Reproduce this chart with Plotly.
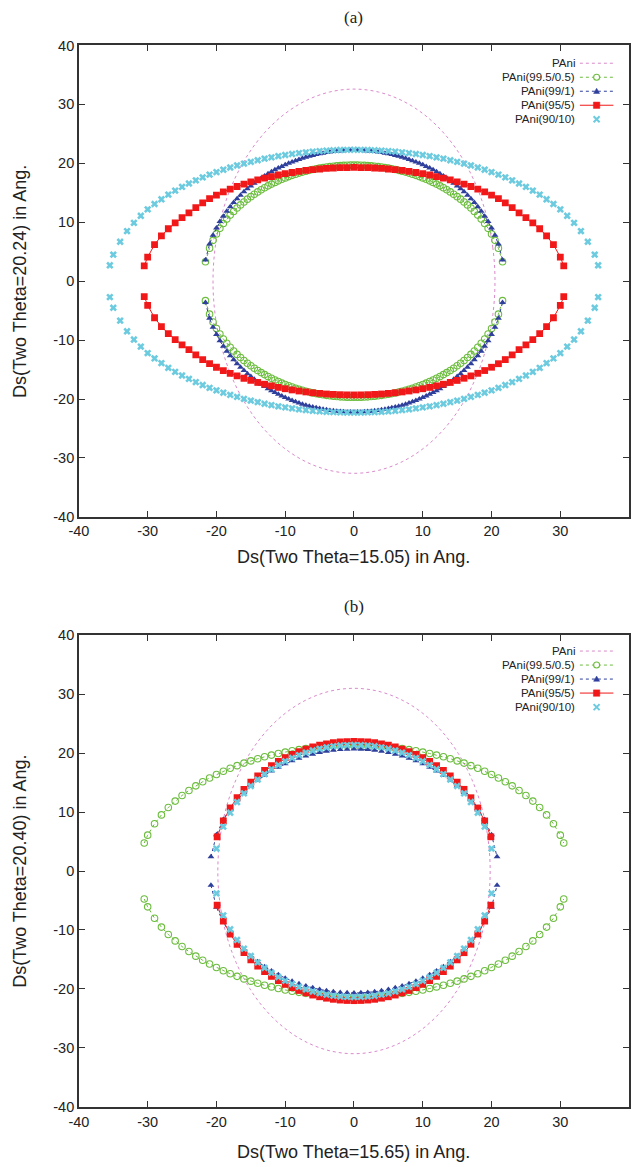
import plotly.graph_objects as go

# ---------------------------------------------------------------------------
# Data.
# Every curve in the reference is symmetric about x=0 and y=0, so each one is
# stored as its first-quadrant part (x >= 0, y >= 0) and mirrored when drawn.
# ---------------------------------------------------------------------------
LABELS = ["PAni", "PAni(99.5/0.5)", "PAni(99/1)", "PAni(95/5)", "PAni(90/10)"]
TICKS = [-40, -30, -20, -10, 0, 10, 20, 30, 40]
TICK_TEXT = ["-40", "-30", "-20", "-10", "0", "10", "20", "30", "40"]

# ---- panel (a) ----
A_PANI_X = [20.5, 20.19, 19.26, 17.75, 15.7, 13.18, 10.25, 7.01, 3.56, 0]
A_PANI_Y = [0, 5.66, 11.15, 16.3, 20.96, 24.97, 28.23, 30.63, 32.1, 32.6]

A_GREEN_X = [0, 0.5, 1, 1.5, 2, 2.5, 3, 3.5, 4, 4.5, 5, 5.5, 6, 6.5, 7, 7.5, 8, 8.5, 9, 9.5,
             10, 10.5, 11, 11.5, 12, 12.5, 13, 13.5, 14, 14.5, 15, 15.5, 16, 16.5, 17, 17.5,
             18, 18.5, 19, 19.5, 20, 20.5, 21, 21.6]
A_GREEN_Y = [19.7, 19.69, 19.68, 19.65, 19.62, 19.57, 19.51, 19.45, 19.37, 19.28, 19.18, 19.07,
             18.95, 18.81, 18.67, 18.51, 18.34, 18.16, 17.96, 17.75, 17.53, 17.29, 17.03, 16.77,
             16.48, 16.18, 15.85, 15.51, 15.15, 14.76, 14.35, 13.92, 13.45, 12.95, 12.42, 11.84,
             11.22, 10.54, 9.8, 8.97, 8.03, 6.93, 5.59, 3.3]

A_BLUE_X = [0, 0.5, 1, 1.5, 2, 2.5, 3, 3.5, 4, 4.5, 5, 5.5, 6, 6.5, 7, 7.5, 8, 8.5, 9, 9.5,
            10, 10.5, 11, 11.5, 12, 12.5, 13, 13.5, 14, 14.5, 15, 15.5, 16, 16.5, 17, 17.5,
            18, 18.5, 19, 19.5, 20, 20.5, 21, 21.6]
A_BLUE_Y = [22.2, 22.19, 22.18, 22.14, 22.11, 22.05, 21.99, 21.92, 21.83, 21.73, 21.61, 21.49,
            21.35, 21.2, 21.04, 20.86, 20.67, 20.46, 20.24, 20.0, 19.75, 19.48, 19.2, 18.9,
            18.57, 18.23, 17.87, 17.48, 17.07, 16.63, 16.17, 15.69, 15.16, 14.59, 14.0, 13.34,
            12.64, 11.88, 11.04, 10.11, 9.04, 7.81, 6.3, 3.6]

A_RED_X = [0, 1, 2, 3, 4, 5, 6, 7, 8, 9, 10, 11, 12, 13, 14, 15, 16, 17, 18, 19, 20, 21, 22,
           23, 24, 25, 26, 27, 28, 29, 30, 30.5]
A_RED_Y = [19.3, 19.29, 19.26, 19.21, 19.14, 19.04, 18.93, 18.79, 18.63, 18.45, 18.25, 18.02,
           17.76, 17.48, 17.18, 16.84, 16.47, 16.07, 15.63, 15.16, 14.6, 14.0, 13.3, 12.5, 11.6,
           10.8, 9.9, 8.9, 7.7, 6.2, 4.1, 2.6]

A_CYAN_X = [0, 1, 2, 3, 4, 5, 6, 7, 8, 9, 10, 11, 12, 13, 14, 15, 16, 17, 18, 19, 20, 21, 22,
            23, 24, 25, 26, 27, 28, 29, 30, 31, 32, 33, 34, 35, 35.5]
A_CYAN_Y = [22.3, 22.29, 22.27, 22.22, 22.16, 22.08, 21.99, 21.87, 21.74, 21.59, 21.42, 21.23,
            21.02, 20.79, 20.53, 20.26, 19.96, 19.64, 19.29, 18.92, 18.52, 18.09, 17.62, 17.12,
            16.58, 16.0, 15.38, 14.7, 13.9, 13.1, 12.2, 11.1, 9.9, 8.5, 6.7, 4.5, 2.7]

# ---- panel (b) ----
B_PANI_X = [19.8, 19.5, 18.61, 17.15, 15.17, 12.73, 9.9, 6.77, 3.44, 0]
B_PANI_Y = [0, 5.38, 10.6, 15.5, 19.93, 23.75, 26.85, 29.13, 30.53, 31.0]

B_GREEN_X = [0, 1, 2, 3, 4, 5, 6, 7, 8, 9, 10, 11, 12, 13, 14, 15, 16, 17, 18, 19, 20, 21, 22,
             23, 24, 25, 26, 27, 28, 29, 30, 30.5]
B_GREEN_Y = [21.3, 21.29, 21.26, 21.2, 21.13, 21.03, 20.9, 20.76, 20.59, 20.4, 20.18, 19.94,
             19.67, 19.38, 19.05, 18.69, 18.31, 17.88, 17.43, 16.93, 16.38, 15.79, 15.15, 14.45,
             13.67, 12.82, 11.86, 10.78, 9.52, 8.01, 6.08, 4.75]

B_BLUE_X = [0, 1, 2, 3, 4, 5, 6, 7, 8, 9, 10, 11, 12, 13, 14, 15, 16, 17, 18, 19, 20, 20.8]
B_BLUE_Y = [20.7, 20.68, 20.61, 20.49, 20.32, 20.1, 19.83, 19.51, 19.13, 18.69, 18.19, 17.62,
            16.97, 16.23, 15.4, 14.45, 13.36, 12.1, 10.59, 8.72, 6.16, 2.4]

B_RED_X = [0, 1, 2, 3, 4, 5, 6, 7, 8, 9, 10, 11, 12, 13, 14, 15, 16, 17, 18, 19, 19.9]
B_RED_Y = [22.0, 21.97, 21.9, 21.77, 21.58, 21.34, 21.05, 20.68, 20.27, 19.79, 19.23, 18.6,
           17.88, 17.07, 16.14, 15.08, 13.86, 12.43, 10.7, 8.5, 5.8]

B_CYAN_X = [0, 1, 2, 3, 4, 5, 6, 7, 8, 9, 10, 11, 12, 13, 14, 15, 16, 17, 18, 19, 20]
B_CYAN_Y = [21.4, 21.37, 21.3, 21.17, 20.98, 20.74, 20.44, 20.09, 19.67, 19.18, 18.62, 17.99,
            17.26, 16.44, 15.5, 14.42, 13.17, 11.7, 9.89, 7.53, 3.8]

# ---------------------------------------------------------------------------
# styles
# ---------------------------------------------------------------------------
W, H = 635, 1167
PINK = "#d98acb"
GREEN = "#6cbd3e"
BLUE = "#2f3f9c"
RED = "#f01818"
CYAN = "#6ccbdf"
AXC = "#333333"
SANS = "Liberation Sans, Arial, Helvetica, sans-serif"
SERIF = "Liberation Serif, Times New Roman, serif"

LEFT, RIGHT = 70, 629
X_DOM = [LEFT / W, RIGHT / W]
CX = (LEFT + RIGHT) / 2
PANELS = {
    "a": dict(top=38, bottom=516),
    "b": dict(top=636, bottom=1114),
}


def ydom(p):
    return [1 - PANELS[p]["bottom"] / H, 1 - PANELS[p]["top"] / H]


def mirrored_arcs(qx, qy):
    """Upper and lower arcs from the first-quadrant half (mirror images)."""
    ux = [-v for v in reversed(qx[1:])] + list(qx)
    uy = list(reversed(qy[1:])) + list(qy)
    lx = list(ux)
    ly = [-v for v in uy]
    return ux + [None] + lx, uy + [None] + ly


def mirrored_loop(qx, qy):
    """Closed loop (0..360 deg) from the first-quadrant points (0..90 deg)."""
    x = list(qx) + [-v for v in reversed(qx[:-1])]
    y = list(qy) + list(reversed(qy[:-1]))
    x += [-v for v in qx[1:]] + list(reversed(qx[:-1]))
    y += [-v for v in qy[1:]] + [-v for v in reversed(qy[:-1])]
    return x, y


fig = go.Figure()

series = {
    "a": [(A_PANI_X, A_PANI_Y), (A_GREEN_X, A_GREEN_Y), (A_BLUE_X, A_BLUE_Y),
          (A_RED_X, A_RED_Y), (A_CYAN_X, A_CYAN_Y)],
    "b": [(B_PANI_X, B_PANI_Y), (B_GREEN_X, B_GREEN_Y), (B_BLUE_X, B_BLUE_Y),
          (B_RED_X, B_RED_Y), (B_CYAN_X, B_CYAN_Y)],
}

for p, (xa, ya) in (("a", ("x", "y")), ("b", ("x2", "y2"))):
    s = series[p]
    px, py = mirrored_loop(*s[0])
    fig.add_trace(go.Scatter(x=px, y=py, mode="lines", name=LABELS[0], xaxis=xa, yaxis=ya,
                             line=dict(color=PINK, width=1, dash="dot", shape="spline")))
    gx, gy = mirrored_arcs(*s[1])
    fig.add_trace(go.Scatter(x=gx, y=gy, mode="lines+markers", name=LABELS[1], xaxis=xa, yaxis=ya,
                             line=dict(color=GREEN, width=1, dash="3px,3px"),
                             marker=dict(symbol="circle-open", size=6.5, color=GREEN,
                                         line=dict(width=1.1, color=GREEN))))
    bx, by = mirrored_arcs(*s[2])
    fig.add_trace(go.Scatter(x=bx, y=by, mode="lines+markers", name=LABELS[2], xaxis=xa, yaxis=ya,
                             line=dict(color=BLUE, width=1, dash="3px,3px"),
                             marker=dict(symbol="triangle-up", size=6, color=BLUE)))
    rx, ry = mirrored_arcs(*s[3])
    fig.add_trace(go.Scatter(x=rx, y=ry, mode="lines+markers", name=LABELS[3], xaxis=xa, yaxis=ya,
                             line=dict(color=RED, width=1),
                             marker=dict(symbol="square", size=6.8, color=RED)))
    cx, cy = mirrored_arcs(*s[4])
    fig.add_trace(go.Scatter(x=cx, y=cy, mode="markers", name=LABELS[4], xaxis=xa, yaxis=ya,
                             marker=dict(symbol="x", size=6.5, color=CYAN,
                                         line=dict(width=0))))


def axis(dom, anchor, standoff):
    return dict(domain=dom, anchor=anchor, range=[-40, 40], tickmode="array",
                tickvals=TICKS, ticktext=TICK_TEXT, ticks="inside", ticklen=6,
                tickwidth=1, tickcolor=AXC, showline=True, linecolor=AXC, linewidth=1.5,
                mirror="ticks", showgrid=False, zeroline=False, ticklabelstandoff=standoff,
                tickfont=dict(family=SANS, size=14.5, color="#222222"), fixedrange=True)


fig.update_layout(
    width=W, height=H, margin=dict(l=0, r=0, t=0, b=0),
    paper_bgcolor="white", plot_bgcolor="white", showlegend=False,
    xaxis=axis(X_DOM, "y", 0), yaxis=axis(ydom("a"), "x", 0),
    xaxis2=axis(X_DOM, "y2", 1), yaxis2=axis(ydom("b"), "x2", 0),
)

annotations = []
shapes = []

TITLES = {
    "a": ("(a)", "Ds(Two Theta=15.05) in Ang.", "Ds(Two Theta=20.24) in Ang.", 10, 557, 18),
    "b": ("(b)", "Ds(Two Theta=15.65) in Ang.", "Ds(Two Theta=20.40) in Ang.", 607, 1160, 16),
}
LEG_COLORS = [PINK, GREEN, BLUE, RED, CYAN]
LEG_TEXT_R, LEG_L0, LEG_L1, LEG_MK = 576, 579, 613, 596

for p, (tag, xt, yt, tag_y, xt_y, leg_off) in TITLES.items():
    top, bot = PANELS[p]["top"], PANELS[p]["bottom"]
    mid = (top + bot) / 2
    annotations.append(dict(text=tag, x=CX / W, y=1 - tag_y / H, xref="paper", yref="paper",
                            showarrow=False, xanchor="center", yanchor="middle",
                            font=dict(family=SERIF, size=17, color="#222222")))
    annotations.append(dict(text=xt, x=CX / W, y=1 - xt_y / H, xref="paper", yref="paper",
                            showarrow=False, xanchor="center", yanchor="middle",
                            font=dict(family=SANS, size=18, color="#222222")))
    annotations.append(dict(text=yt, x=10 / W, y=1 - mid / H, xref="paper", yref="paper",
                            showarrow=False, xanchor="center", yanchor="middle", textangle=-90,
                            font=dict(family=SANS, size=18, color="#222222")))
    # legend (text on the left, sample on the right, as in the reference)
    for i, lab in enumerate(LABELS):
        ry = top + leg_off + i * 14.2
        yp = 1 - ry / H
        annotations.append(dict(text=lab, x=LEG_TEXT_R / W, y=yp, xref="paper", yref="paper",
                                showarrow=False, xanchor="right", yanchor="middle",
                                font=dict(family=SANS, size=11.5, color="#222222")))
        col = LEG_COLORS[i]
        if i in (0, 1, 2, 3):
            dash = {0: "dot", 1: "3px,3px", 2: "3px,3px", 3: "solid"}[i]
            shapes.append(dict(type="line", xref="paper", yref="paper", x0=LEG_L0 / W,
                               x1=LEG_L1 / W, y0=yp, y1=yp,
                               line=dict(color=col, width=1, dash=dash)))
        common = dict(xref="paper", yref="paper", xsizemode="pixel", ysizemode="pixel",
                      xanchor=LEG_MK / W, yanchor=yp)
        if i == 1:
            shapes.append(dict(type="circle", x0=-3, x1=3, y0=-3, y1=3, fillcolor="white",
                               line=dict(color=col, width=1.1), **common))
        elif i == 2:
            shapes.append(dict(type="path", path="M -3,-2.2 L 3,-2.2 L 0,3 Z", fillcolor=col,
                               line=dict(color=col, width=0.5), **common))
        elif i == 3:
            shapes.append(dict(type="rect", x0=-3.2, x1=3.2, y0=-3.2, y1=3.2, fillcolor=col,
                               line=dict(color=col, width=0.5), **common))
        elif i == 4:
            shapes.append(dict(type="path", path="M -3,-3 L 3,3 M -3,3 L 3,-3",
                               line=dict(color=col, width=2), **common))

fig.update_layout(annotations=annotations, shapes=shapes)
# remove the browser's default 8px page margin so the figure sits at the page origin
fig.write_html("out.html", config={"displayModeBar": False},
               post_script="document.body.style.margin='0';"
                           "document.documentElement.style.overflow='hidden';")
